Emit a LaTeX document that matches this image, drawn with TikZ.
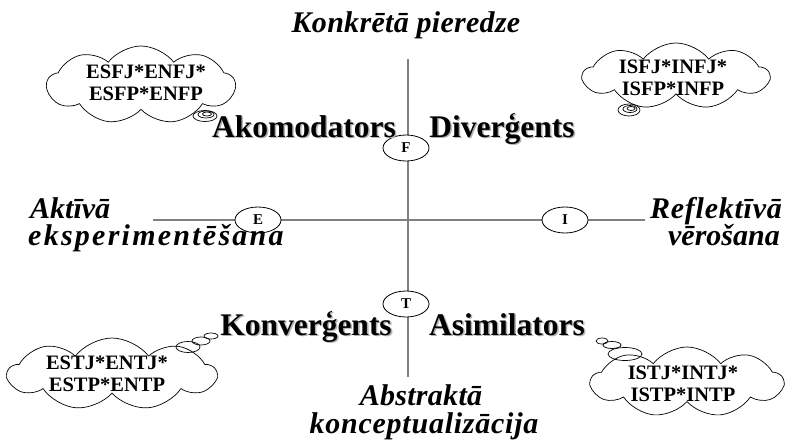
\documentclass[tikz,border=0pt]{standalone}
\usepackage{fontspec}
\setmainfont{Liberation Serif}
\usetikzlibrary{shapes.symbols,shapes.geometric}
\definecolor{axisgray}{HTML}{808080}
% bold label with a soft grey drop shadow
\newcommand\shtext[1]{\makebox[0pt][l]{\hspace{1.6pt}\raisebox{-1.6pt}{\textcolor{black!30}{#1}}}#1}
% letter-spaced text
\newcommand\spaced[2]{{\addfontfeature{LetterSpace=#1}#2}}
\tikzset{
  axis/.style={draw=axisgray, line width=1.4pt},
  pole/.style={ellipse, draw, line width=0.8pt, fill=white, minimum width=46pt, minimum height=26pt, inner sep=0pt, font=\fontsize{15}{15}\selectfont\bfseries},
  quad/.style={font=\fontsize{31.5}{31.5}\selectfont\bfseries, inner sep=0pt},
  axlabel/.style={font=\fontsize{30}{32}\selectfont\bfseries\itshape, inner sep=0pt},
  thought/.style={cloud, draw, line width=0.7pt, cloud puffs=9, cloud puff arc=105, cloud ignores aspect, inner sep=0pt},
  cloudtext/.style={align=center, inner sep=0pt, font=\fontsize{20.5}{21.5}\selectfont\bfseries},
  puff/.style={draw, line width=0.7pt}
}
\begin{document}
\begin{tikzpicture}[x=1pt, y=-1pt]
\useasboundingbox (0,0) rectangle (785,442);

% axes
\coordinate (top) at (408,59);
\coordinate (bottom) at (408,377);
\coordinate (left) at (153,220);
\coordinate (right) at (645,220);
\draw[axis] (top) -- (bottom);
\draw[axis] (left) -- (right);

% poles on the axes
\node[pole] (F) at (406,148) {F};
\node[pole] (T) at (406,304) {T};
\node[pole] (E) at (258,220) {E};
\node[pole] (I) at (565,220) {I};

% axis labels
\node[axlabel, anchor=base] (conc) at (406,32) {\spaced{1}{Konkrētā pieredze}};
\node[axlabel, anchor=base west] (act1) at (30,218) {Aktīvā};
\node[axlabel, anchor=base west] (act2) at (28,245) {\spaced{7.5}{eksperimentēšana}};
\node[axlabel, anchor=base east] (ref1) at (782,218) {\spaced{2.5}{Reflektīvā}};
\node[axlabel, anchor=base east] (ref2) at (780,245) {vērošana};
\node[axlabel, anchor=base] (abs1) at (421,405) {\spaced{1}{Abstraktā}};
\node[axlabel, anchor=base] (abs2) at (424,433) {\spaced{2.5}{konceptualizācija}};

% learning styles
\node[quad, anchor=base] (akom) at (304,137) {\shtext{Akomodators}};
\node[quad, anchor=base] (div) at (502,137) {\shtext{Diverģents}};
\node[quad, anchor=base] (konv) at (306,335) {\shtext{Konverģents}};
\node[quad, anchor=base] (asim) at (507,335) {\shtext{Asimilators}};

% type clouds
\node[thought, minimum width=188pt, minimum height=78pt] (c1) at (141,85) {};
\node[cloudtext] (t1) at (146,83) {ESFJ*ENFJ*\\ESFP*ENFP};
\node[thought, minimum width=186pt, minimum height=66pt] (c2) at (676,76) {};
\node[cloudtext] (t2) at (673,78) {ISFJ*INFJ*\\ISFP*INFP};
\node[thought, minimum width=208pt, minimum height=72pt] (c3) at (112,374) {};
\node[cloudtext] (t3) at (107,374) {ESTJ*ENTJ*\\ESTP*ENTP};
\node[thought, minimum width=192pt, minimum height=70pt] (c4) at (687,382) {};
\node[cloudtext] (t4) at (683,384) {ISTJ*INTJ*\\ISTP*INTP};

% thought-bubble tails
\draw[puff] (205,116) ellipse [x radius=12, y radius=5.5];
\draw[puff] (206,114.5) ellipse [x radius=8, y radius=3.5];
\draw[puff] (207,114) ellipse [x radius=4.5, y radius=2];

\draw[puff] (629,110) ellipse [x radius=11, y radius=6];
\draw[puff] (630,109) ellipse [x radius=7, y radius=3.5];
\draw[puff] (631,108.5) ellipse [x radius=4, y radius=2];

\draw[puff] (188,347) ellipse [x radius=12, y radius=5.5];
\draw[puff] (201,341) ellipse [x radius=9, y radius=4];
\draw[puff] (211,336) ellipse [x radius=7, y radius=3];

\draw[puff] (602,341) ellipse [x radius=6, y radius=3];
\draw[puff] (612,345) ellipse [x radius=9, y radius=3.5];
\draw[puff] (625,354) ellipse [x radius=17, y radius=6.5];
\end{tikzpicture}
\end{document}
